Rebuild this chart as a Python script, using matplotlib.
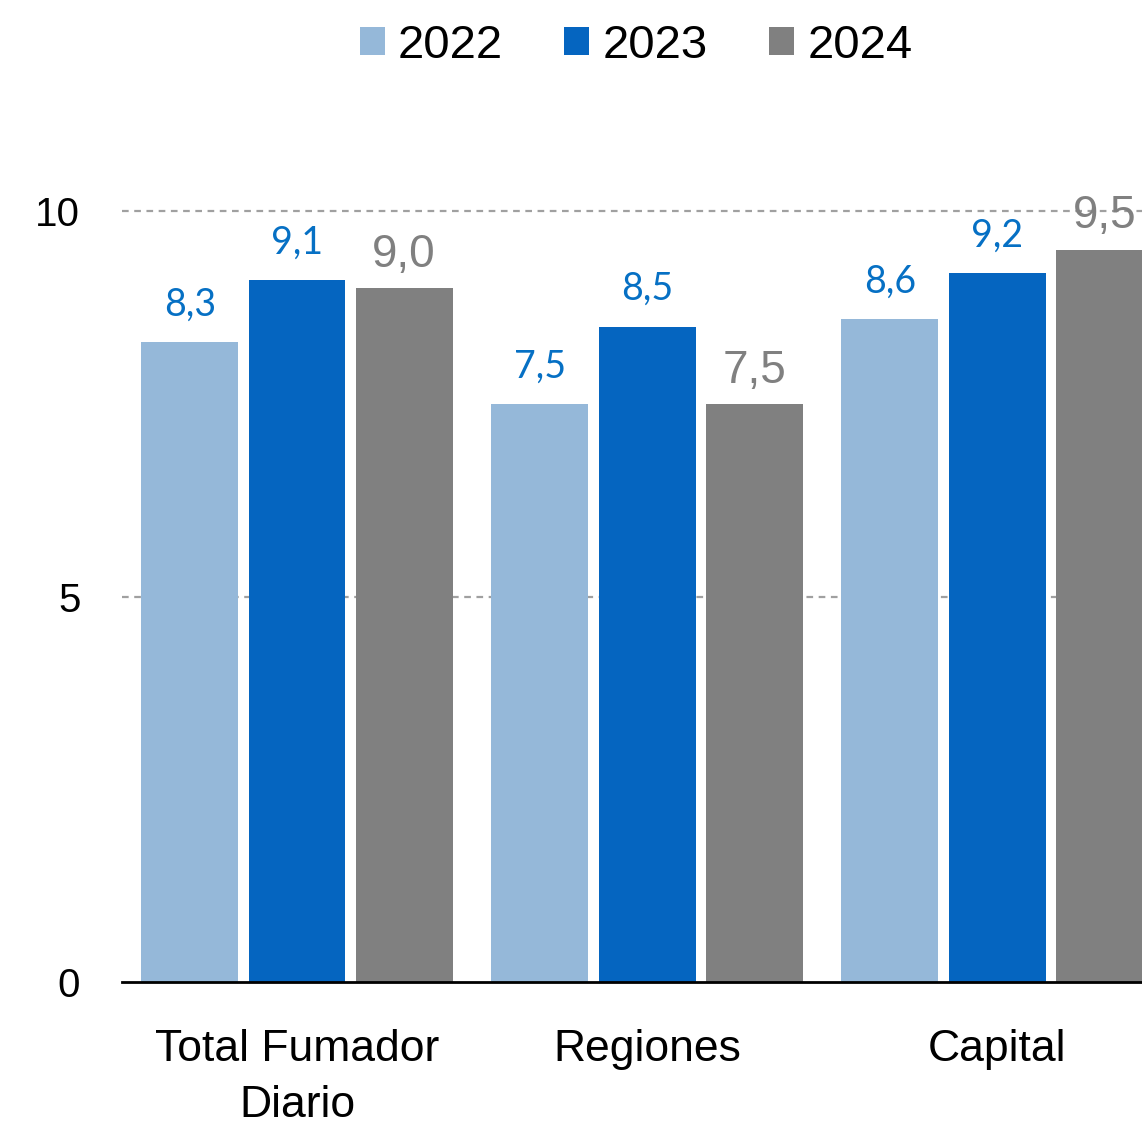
import numpy as np
import matplotlib.pyplot as plt

plt.rcParams['font.family'] = ['Liberation Sans', 'DejaVu Sans']

categories = ['Total Fumador\nDiario', 'Regiones', 'Capital']
years = ['2022', '2023', '2024']
v2022 = [8.3, 7.5, 8.6]
v2023 = [9.1, 8.5, 9.2]
v2024 = [9.0, 7.5, 9.5]

colors = ['#95b8d9', '#0565c0', '#808080']
lab_colors = ['#0670c4', '#0670c4', '#808080']

fig = plt.figure(figsize=(11.42, 11.25), dpi=100)
ax = fig.add_axes([122 / 1142, 143 / 1125, 1 - 122 / 1142, 11 * 77.1 / 1125])

x = np.arange(len(categories))
width = 0.277
step = 0.306
series = [v2022, v2023, v2024]
for i, vals in enumerate(series):
    pos = x + (i - 1) * step
    ax.bar(pos, vals, width, color=colors[i], label=years[i], zorder=3)
    for px, v in zip(pos, vals):
        txt = ('%.1f' % v).replace('.', ',')
        if i < 2:
            ax.annotate(txt, (px, v), xytext=(0, 14), textcoords='offset points',
                        ha='center', va='bottom', fontsize=27, color=lab_colors[i],
                        family=['Lato', 'DejaVu Sans'], zorder=4)
        else:
            ax.annotate(txt, (px, v), xytext=(0, 8), textcoords='offset points',
                        ha='center', va='bottom', fontsize=33, color=lab_colors[i],
                        zorder=4)

ax.set_xlim(-0.5, 2.414)
ax.set_ylim(0, 11)
ax.set_yticks([0, 5, 10])
ax.set_yticklabels(['0', '5', '10'])
ax.set_xticks(x)
ax.set_xticklabels(categories, fontsize=32, linespacing=1.45)
ax.tick_params(axis='y', length=0, labelsize=29, pad=30)
ax.tick_params(axis='x', length=0, pad=34)

for y in [5, 10]:
    ax.axhline(y, color='#a0a0a0', lw=1.6, ls=(0, (3, 2.5)), zorder=1)

for s in ['top', 'right', 'left']:
    ax.spines[s].set_visible(False)
ax.spines['bottom'].set_linewidth(2)
ax.spines['bottom'].set_color('black')
ax.spines['bottom'].set_zorder(5)

fig.legend(loc='center', bbox_to_anchor=(0.557, 0.959), ncol=3, frameon=False,
           fontsize=34, handlelength=0.53, handleheight=0.53, handletextpad=0.28,
           columnspacing=1.3)

fig.savefig('out.png', dpi=100)
